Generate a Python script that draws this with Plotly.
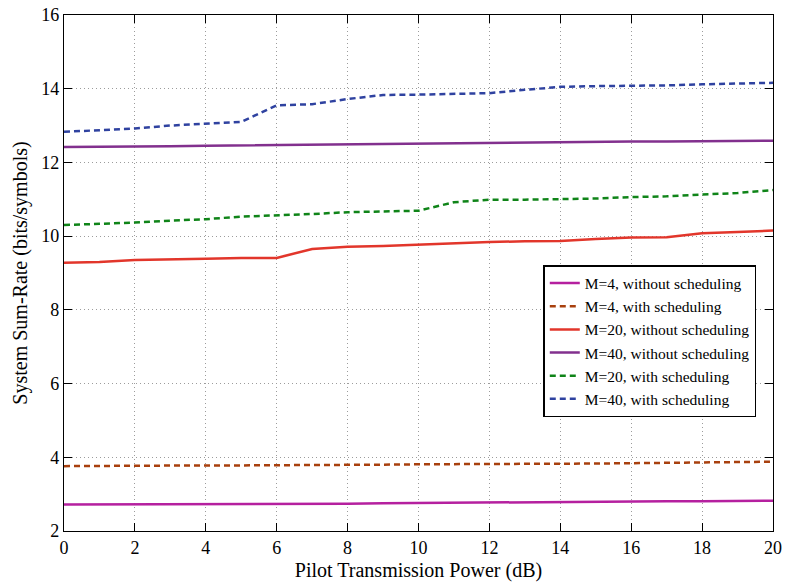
import plotly.graph_objects as go

x = list(range(0, 21))

m4_without = [2.72, 2.72, 2.72, 2.72, 2.72, 2.73, 2.73, 2.74, 2.74, 2.75, 2.76, 2.76, 2.77,
              2.78, 2.79, 2.80, 2.80, 2.81, 2.81, 2.82, 2.82]
m4_with = [3.76, 3.77, 3.77, 3.78, 3.78, 3.78, 3.78, 3.79, 3.79, 3.80, 3.81, 3.81, 3.82,
           3.82, 3.83, 3.83, 3.84, 3.85, 3.86, 3.87, 3.88]
m20_without = [9.28, 9.30, 9.35, 9.38, 9.39, 9.41, 9.41, 9.65, 9.71, 9.73, 9.77, 9.80, 9.84,
               9.86, 9.87, 9.92, 9.96, 9.97, 10.08, 10.11, 10.15]
m40_without = [12.42, 12.42, 12.43, 12.44, 12.45, 12.46, 12.49, 12.50, 12.50, 12.51, 12.52,
               12.54, 12.55, 12.56, 12.56, 12.56, 12.57, 12.57, 12.58, 12.58, 12.59]
m20_with = [10.30, 10.33, 10.37, 10.42, 10.46, 10.53, 10.56, 10.60, 10.65, 10.68, 10.69,
            10.92, 10.99, 10.99, 11.00, 11.02, 11.06, 11.08, 11.13, 11.17, 11.25]
m40_with = [12.83, 12.88, 12.92, 13.00, 13.05, 13.10, 13.55, 13.58, 13.72, 13.83, 13.84,
            13.86, 13.88, 13.97, 14.05, 14.07, 14.08, 14.09, 14.12, 14.15, 14.16]

series = [
    ("M=4, without scheduling", m4_without, "#B5209F", "solid"),
    ("M=4, with scheduling", m4_with, "#A8400E", "6px,4px"),
    ("M=20, without scheduling", m20_without, "#E2362B", "solid"),
    ("M=40, without scheduling", m40_without, "#82308E", "solid"),
    ("M=20, with scheduling", m20_with, "#0F8418", "6px,4px"),
    ("M=40, with scheduling", m40_with, "#2F42A0", "6px,4px"),
]

fig = go.Figure()
for name, ys, color, dash in series:
    fig.add_trace(go.Scatter(x=x, y=ys, mode="lines", name=name,
                             line=dict(color=color, width=2.5, dash=dash)))

font_family = "Liberation Serif, Times New Roman, serif"
axis_common = dict(
    showline=True, linecolor="black", linewidth=1.2, mirror="ticks",
    ticks="inside", ticklen=8, tickcolor="black",
    showgrid=True, gridcolor="#9c9c9c", griddash="1px,3px", gridwidth=1,
    zeroline=False, automargin=False,
    tickfont=dict(family=font_family, size=18, color="black"),
)

fig.update_layout(
    width=786, height=584,
    margin=dict(l=64, r=13, t=15, b=53, autoexpand=False),
    paper_bgcolor="white", plot_bgcolor="white",
    font=dict(family=font_family, color="black"),
    showlegend=True,
    legend=dict(
        x=0.676, y=0.5155, xanchor="left", yanchor="top",
        bgcolor="white", bordercolor="black", borderwidth=1.5,
        font=dict(family=font_family, size=15.5, color="black"),
        tracegroupgap=0, itemwidth=30,
    ),
    xaxis=dict(range=[0, 20], tickvals=list(range(0, 21, 2)),
               title=dict(text="Pilot Transmission Power (dB)",
                          font=dict(family=font_family, size=20), standoff=6),
               **axis_common),
    yaxis=dict(range=[2, 16], tickvals=list(range(2, 17, 2)),
               title=dict(text="System Sum-Rate (bits/symbols)",
                          font=dict(family=font_family, size=20), standoff=8),
               **axis_common),
)

fig.write_html("out.html")
